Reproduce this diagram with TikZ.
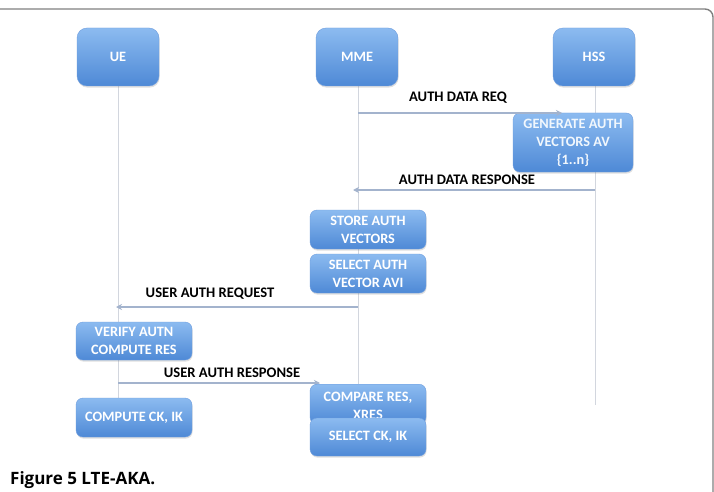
\documentclass[tikz,border=0pt]{standalone}
\usepackage{fontspec}
\setmainfont{Carlito}
\newfontfamily\capfont{Open Sans}
\usetikzlibrary{shadows,arrows.meta}
\definecolor{boxtop}{HTML}{8CBBF0}
\definecolor{boxbot}{HTML}{4E89D6}
\definecolor{boxedge}{HTML}{6F9EDF}
\definecolor{lifecol}{HTML}{D2D6DE}
\definecolor{msgcol}{HTML}{A3B3CD}
\definecolor{framecol}{HTML}{808080}
\begin{document}
\begin{tikzpicture}[x=1pt,y=-1pt,
  box/.style={rounded corners=7pt, top color=boxtop, bottom color=boxbot,
    draw=boxedge, line width=0.4pt, text=white, align=center, inner sep=0pt,
    font=\bfseries\fontsize{14.3}{18}\selectfont,
    drop shadow={shadow xshift=0.6pt, shadow yshift=-1.6pt, opacity=0.25, fill=gray}},
  head/.style={box, rounded corners=10pt, minimum width=82pt, minimum height=58pt},
  life/.style={draw=lifecol, line width=1pt},
  msg/.style={draw=msgcol, line width=1.3pt, -{Stealth[length=6pt,width=6pt]}},
  lbl/.style={font=\bfseries\fontsize{14.6}{17}\selectfont, text=black, inner sep=0pt}]
\useasboundingbox (0,0) rectangle (714,492);
\fill[white] (0,0) rectangle (714,492);
% frame
\draw[framecol, line width=1.4pt, rounded corners=8pt] (-5,9) -- (713,9) -- (713,500);
% lifeline end coordinates
\coordinate (ueend) at (118,398);
\coordinate (mmeend) at (358,384);
\coordinate (hssend) at (595,405);
\coordinate (ueT) at (118,86);
\coordinate (mmeT) at (358,86);
\coordinate (hssT) at (595,86);
\draw[life] (ueT) -- (ueend);
\draw[life] (mmeT) -- (mmeend);
\draw[life] (hssT) -- (hssend);
% header boxes
\node[head] (ue) at (118,57) {UE};
\node[head] (mme) at (357,57) {MME};
\node[head] (hss) at (594,57) {HSS};
% message coordinates
\coordinate (m1s) at (358,113);
\coordinate (m1e) at (562,113);
\coordinate (m2s) at (595,190);
\coordinate (m2e) at (353,190);
\coordinate (m3s) at (358,307);
\coordinate (m3e) at (116,307);
\coordinate (m4s) at (118,383);
\coordinate (m4e) at (320,383);
% action boxes
\node[box, minimum width=120pt, minimum height=59pt, text=white!88!boxtop] (gen) at (573,142.5) {GENERATE AUTH\\VECTORS AV\\\{1..n\}};
\draw[msg] (m1s) -- (m1e);
\node[lbl] (l1) at (458,98) {AUTH DATA REQ};
\draw[msg] (m2s) -- (m2e);
\node[lbl] (l2) at (467,180) {AUTH DATA RESPONSE};
\node[box, minimum width=116pt, minimum height=39pt] (store) at (368,229.5) {STORE AUTH\\VECTORS};
\node[box, minimum width=116pt, minimum height=39pt] (selav) at (368,273.5) {SELECT AUTH\\VECTOR AVI};
\draw[msg] (m3s) -- (m3e);
\node[lbl] (l3) at (210,294) {USER AUTH REQUEST};
\node[box, minimum width=116pt, minimum height=38pt] (verify) at (134,341) {VERIFY AUTN\\COMPUTE RES};
\draw[msg] (m4s) -- (m4e);
\node[lbl] (l4) at (232,373) {USER AUTH RESPONSE};
\node[box, minimum width=116pt, minimum height=39pt] (ck) at (134,417.5) {COMPUTE CK, IK};
\node[box, minimum width=116pt, minimum height=40pt, anchor=north] (cmp) at (368,384) {};
\node[font=\bfseries\fontsize{14.3}{18}\selectfont, text=white, align=center, inner sep=0pt] (cmpt) at (368,406) {COMPARE RES,\\XRES};
\node[box, minimum width=116pt, minimum height=38pt] (selck) at (368,437) {SELECT CK, IK};
% caption
\node[font=\capfont\bfseries\fontsize{17}{20}\selectfont, anchor=west, inner sep=0pt] (cap) at (10,480) {Figure 5 LTE-AKA.};
\end{tikzpicture}
\end{document}
